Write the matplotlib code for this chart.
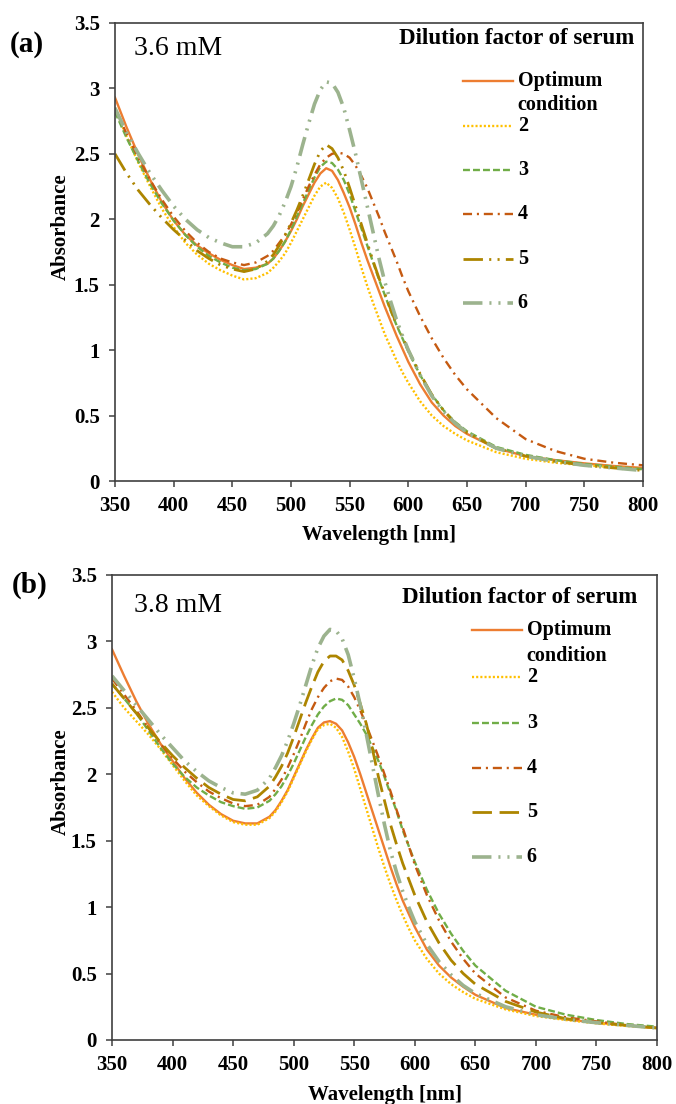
import matplotlib
matplotlib.use('Agg')
import matplotlib.pyplot as plt
from matplotlib.ticker import FuncFormatter

plt.rcParams['font.family'] = ['Liberation Serif', 'DejaVu Serif']
plt.rcParams['font.weight'] = 'bold'
plt.rcParams['axes.labelweight'] = 'bold'
plt.rcParams['lines.scale_dashes'] = False

# ---- data ----
wavelength = [350, 360, 370, 380, 390, 400, 410, 420, 430, 440, 450, 460, 470,
              480, 485, 490, 495, 500, 505, 510, 515, 520, 525, 530, 535, 540, 545,
              550, 555, 560, 565, 570, 575, 580, 585, 590, 595, 600,
              610, 620, 630, 640, 650, 675, 700, 725, 750, 775, 800]

series_labels = ['Optimum\ncondition', '2', '3', '4', '5', '6']

# (a) 3.6 mM
a_optimum = [2.93, 2.70, 2.49, 2.30, 2.13, 1.99, 1.88, 1.80, 1.74, 1.69, 1.65, 1.62, 1.63,
             1.66, 1.70, 1.76, 1.83, 1.91, 2.00, 2.10, 2.19, 2.28, 2.35, 2.39, 2.37, 2.30, 2.20,
             2.09, 1.96, 1.82, 1.69, 1.57, 1.45, 1.33, 1.22, 1.11, 1.01, 0.91,
             0.74, 0.60, 0.50, 0.42, 0.36, 0.25, 0.19, 0.16, 0.135, 0.115, 0.10]
a_df2 = [2.85, 2.63, 2.43, 2.25, 2.08, 1.94, 1.82, 1.73, 1.66, 1.61, 1.57, 1.54, 1.55,
         1.59, 1.63, 1.68, 1.74, 1.82, 1.91, 2.00, 2.09, 2.18, 2.25, 2.28, 2.24, 2.16, 2.05,
         1.92, 1.78, 1.63, 1.49, 1.36, 1.24, 1.12, 1.02, 0.92, 0.83, 0.75,
         0.61, 0.50, 0.42, 0.36, 0.31, 0.22, 0.17, 0.14, 0.12, 0.105, 0.09]
a_df3 = [2.82, 2.62, 2.44, 2.27, 2.12, 1.99, 1.88, 1.79, 1.72, 1.67, 1.63, 1.61, 1.62,
         1.66, 1.70, 1.76, 1.83, 1.92, 2.02, 2.12, 2.22, 2.32, 2.40, 2.44, 2.43, 2.38, 2.30,
         2.19, 2.06, 1.93, 1.80, 1.67, 1.54, 1.42, 1.30, 1.19, 1.09, 0.99,
         0.81, 0.66, 0.54, 0.45, 0.38, 0.26, 0.20, 0.16, 0.13, 0.11, 0.09]
a_df4 = [2.85, 2.65, 2.47, 2.30, 2.15, 2.02, 1.91, 1.82, 1.75, 1.70, 1.67, 1.65, 1.67,
         1.72, 1.76, 1.82, 1.88, 1.96, 2.05, 2.15, 2.25, 2.34, 2.42, 2.47, 2.50, 2.51, 2.50,
         2.47, 2.41, 2.33, 2.24, 2.13, 2.02, 1.90, 1.79, 1.68, 1.56, 1.45,
         1.26, 1.09, 0.94, 0.81, 0.70, 0.48, 0.32, 0.23, 0.17, 0.14, 0.12]
a_df5 = [2.50, 2.35, 2.22, 2.11, 2.01, 1.92, 1.84, 1.76, 1.70, 1.65, 1.62, 1.60, 1.62,
         1.68, 1.73, 1.80, 1.88, 1.97, 2.07, 2.18, 2.30, 2.42, 2.52, 2.57, 2.54, 2.47, 2.37,
         2.24, 2.10, 1.96, 1.82, 1.68, 1.55, 1.43, 1.31, 1.20, 1.10, 1.00,
         0.82, 0.66, 0.54, 0.44, 0.37, 0.25, 0.19, 0.15, 0.12, 0.10, 0.08]
a_df6 = [2.85, 2.66, 2.50, 2.35, 2.22, 2.10, 2.00, 1.92, 1.86, 1.82, 1.79, 1.79, 1.82,
         1.89, 1.95, 2.03, 2.13, 2.25, 2.40, 2.57, 2.73, 2.88, 2.99, 3.05, 3.04, 2.97, 2.85,
         2.68, 2.50, 2.30, 2.10, 1.90, 1.70, 1.52, 1.37, 1.23, 1.11, 1.00,
         0.81, 0.65, 0.53, 0.44, 0.37, 0.25, 0.19, 0.15, 0.12, 0.10, 0.08]

# (b) 3.8 mM
b_optimum = [2.94, 2.74, 2.55, 2.38, 2.23, 2.10, 1.97, 1.86, 1.77, 1.70, 1.65, 1.63, 1.63,
             1.68, 1.73, 1.80, 1.88, 1.98, 2.08, 2.18, 2.27, 2.35, 2.39, 2.40, 2.38, 2.33, 2.24,
             2.13, 2.00, 1.86, 1.72, 1.58, 1.44, 1.30, 1.17, 1.05, 0.95, 0.85,
             0.68, 0.56, 0.47, 0.40, 0.34, 0.24, 0.19, 0.155, 0.13, 0.11, 0.09]
b_df2 = [2.62, 2.50, 2.40, 2.30, 2.19, 2.07, 1.95, 1.84, 1.76, 1.69, 1.64, 1.62, 1.62,
         1.67, 1.72, 1.79, 1.87, 1.97, 2.07, 2.17, 2.26, 2.34, 2.37, 2.38, 2.35, 2.28, 2.17,
         2.04, 1.89, 1.74, 1.59, 1.44, 1.30, 1.17, 1.05, 0.94, 0.84, 0.75,
         0.61, 0.50, 0.42, 0.36, 0.31, 0.23, 0.18, 0.15, 0.125, 0.105, 0.09]
b_df3 = [2.68, 2.57, 2.46, 2.33, 2.20, 2.08, 1.98, 1.90, 1.84, 1.79, 1.76, 1.74, 1.75,
         1.80, 1.85, 1.91, 1.99, 2.08, 2.18, 2.28, 2.37, 2.45, 2.51, 2.55, 2.57, 2.56, 2.52,
         2.45, 2.38, 2.30, 2.20, 2.10, 1.98, 1.85, 1.72, 1.58, 1.46, 1.34,
         1.13, 0.95, 0.80, 0.67, 0.56, 0.37, 0.25, 0.19, 0.15, 0.12, 0.10]
b_df4 = [2.72, 2.60, 2.48, 2.35, 2.23, 2.12, 2.02, 1.94, 1.87, 1.82, 1.78, 1.76, 1.77,
         1.83, 1.89, 1.96, 2.05, 2.15, 2.26, 2.38, 2.49, 2.58, 2.65, 2.70, 2.72, 2.71, 2.66,
         2.58, 2.48, 2.37, 2.25, 2.13, 2.00, 1.87, 1.73, 1.60, 1.46, 1.32,
         1.09, 0.90, 0.74, 0.61, 0.50, 0.32, 0.22, 0.17, 0.14, 0.11, 0.09]
b_df5 = [2.68, 2.57, 2.46, 2.35, 2.24, 2.14, 2.05, 1.97, 1.90, 1.85, 1.81, 1.80, 1.83,
         1.91, 1.98, 2.06, 2.16, 2.28, 2.41, 2.54, 2.66, 2.77, 2.85, 2.89, 2.89, 2.86, 2.78,
         2.67, 2.53, 2.38, 2.19, 1.98, 1.80, 1.62, 1.47, 1.33, 1.21, 1.09,
         0.89, 0.73, 0.60, 0.50, 0.42, 0.29, 0.21, 0.16, 0.13, 0.11, 0.09]
b_df6 = [2.74, 2.63, 2.52, 2.41, 2.30, 2.20, 2.10, 2.02, 1.95, 1.90, 1.86, 1.85, 1.88,
         1.97, 2.05, 2.14, 2.25, 2.38, 2.52, 2.67, 2.82, 2.95, 3.04, 3.09, 3.08, 3.02, 2.90,
         2.72, 2.52, 2.30, 2.07, 1.84, 1.62, 1.42, 1.26, 1.12, 1.00, 0.89,
         0.72, 0.59, 0.49, 0.41, 0.35, 0.25, 0.19, 0.155, 0.13, 0.11, 0.09]

# ---- styles ----
AXIS_COL = '#404040'
style_opt = dict(color='#ED7D31', lw=1.7)
style_2 = dict(color='#FFC000', lw=1.7, dashes=(1.5, 1.5))
style_3 = dict(color='#70AD47', lw=1.7, dashes=(5, 2.2))
style_4 = dict(color='#C55A11', lw=1.7, dashes=(6.5, 3.5, 1.5, 3.5))
style_5a = dict(color='#AD8500', lw=2.0, dashes=(14, 4.5, 1.5, 4.5, 1.5, 4.5))
style_5b = dict(color='#AD8500', lw=2.0, dashes=(14, 5.5))
style_6 = dict(color='#9CB38E', lw=2.6, dashes=(14, 5, 1.5, 5, 1.5, 5))


def draw_panel(ax, curves, styles, conc, key):
    for vals, st in zip(curves, styles):
        ax.plot(wavelength, vals, **st)

    ax.set_xlim(350, 800)
    ax.set_ylim(0, 3.5)
    ax.set_xticks(range(350, 801, 50))
    ax.set_yticks([0, 0.5, 1, 1.5, 2, 2.5, 3, 3.5])
    ax.yaxis.set_major_formatter(FuncFormatter(lambda v, p: '%g' % v))
    for s in ax.spines.values():
        s.set_color(AXIS_COL)
        s.set_linewidth(1.2)
    ax.tick_params(direction='out', length=4, width=1.1, color=AXIS_COL, labelsize=15)
    ax.tick_params(axis='x', pad=7)
    ax.tick_params(axis='y', pad=7)

    ax.set_xlabel('Wavelength [nm]', fontsize=15)
    ax.set_ylabel('Absorbance', fontsize=15)
    ax.xaxis.set_label_coords(0.5, -0.096)
    ax.yaxis.set_label_coords(key['ylab_x'], 0.556)

    ax.text(key['conc'][0], key['conc'][1], conc, transform=ax.transAxes,
            ha='left', va='center', fontsize=20, fontweight='normal')

    # legend drawn as in the source figure (uneven row spacing)
    ax.text(key['title'][0], key['title'][1], 'Dilution factor of serum',
            transform=ax.transAxes, ha='center', va='center', fontsize=16.5)
    x0, x1, xt = key['hx']
    for lab, st, y in zip(series_labels, styles, key['rows']):
        ax.plot([x0, x1], [y, y], transform=ax.transAxes, clip_on=False, **st)
        for k, line in enumerate(lab.split('\n')):
            ax.text(xt, y - k * key['step'], line, transform=ax.transAxes,
                    ha='left', va='center', fontsize=14.5)


fig = plt.figure(figsize=(6.76, 11.04), dpi=100)

ax_a = fig.add_axes([0.1701, 0.5643, 0.7811, 0.4149])
draw_panel(ax_a, [a_optimum, a_df2, a_df3, a_df4, a_df5, a_df6],
           [style_opt, style_2, style_3, style_4, style_5a, style_6], '3.6 mM',
           dict(ylab_x=-0.083, conc=(0.036, 0.945), title=(0.761, 0.966),
                hx=(0.659, 0.754, 0.763), step=0.052,
                rows=[0.873, 0.775, 0.679, 0.583, 0.485, 0.389]))

ax_b = fig.add_axes([0.1657, 0.0580, 0.8062, 0.4212])
draw_panel(ax_b, [b_optimum, b_df2, b_df3, b_df4, b_df5, b_df6],
           [style_opt, style_2, style_3, style_4, style_5b, style_6], '3.8 mM',
           dict(ylab_x=-0.075, conc=(0.040, 0.935), title=(0.748, 0.9505),
                hx=(0.661, 0.752, 0.761), step=0.056,
                rows=[0.882, 0.781, 0.682, 0.585, 0.490, 0.394]))

fig.text(0.0148, 0.960, '(a)', ha='left', va='center', fontsize=21)
fig.text(0.018, 0.470, '(b)', ha='left', va='center', fontsize=21)

fig.savefig('out.png', dpi=100)
